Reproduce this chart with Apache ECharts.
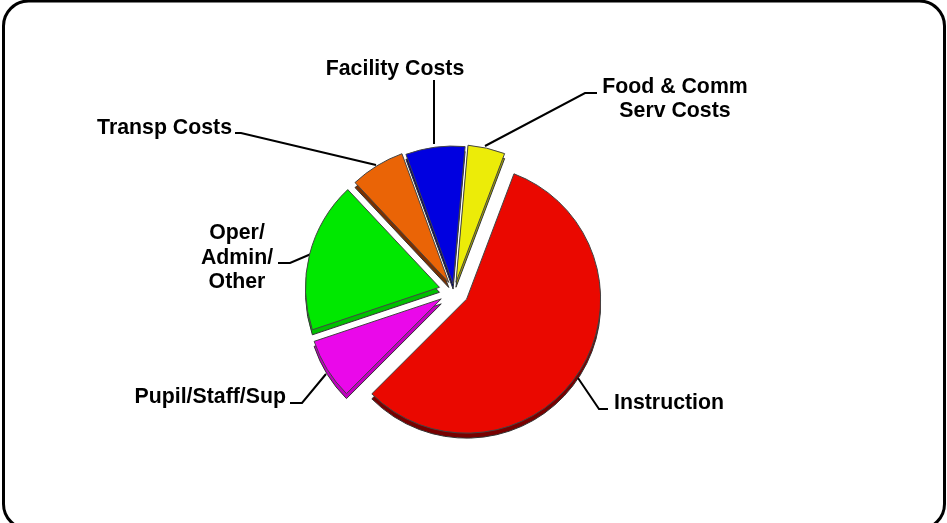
<!DOCTYPE html>
<html>
<head>
<meta charset="utf-8">
<style>
  html, body { margin: 0; padding: 0; background: #fff; overflow: hidden; }
  #chart { width: 947px; height: 523px; }
</style>
</head>
<body>
<div id="chart"></div>
<script src="https://cdn.jsdelivr.net/npm/echarts@6/dist/echarts.min.js"></script>
<script>
// clockwise from the top of the pie
var categories = ['Food & Comm\nServ Costs', 'Instruction', 'Pupil/Staff/Sup', 'Oper/\nAdmin/\nOther', 'Transp Costs', 'Facility Costs'];
var values = [4.36, 56.75, 7.36, 18.14, 6.44, 6.94];
var topColors = ['#ecec08', '#ea0800', '#ea08ea', '#00e800', '#ea6406', '#0000e0'];
var sideColors = ['#a8a800', '#780000', '#c000c0', '#00c000', '#7a3000', '#000070'];
var explode = [9, 15, 15, 15, 10, 7];
var radii = [137.5, 134, 134, 134, 137, 138];

// label anchor and leader line for each slice
var labelPos = [
  {x: 675, y: 99, line: [[485, 146], [585, 93], [597, 93]]},
  {x: 614, y: 403, align: 'left', line: [[578, 378], [599, 409], [608, 409]]},
  {x: 286, y: 397, align: 'right', line: [[326, 374], [302, 403], [290, 403]]},
  {x: 237, y: 258, line: [[311, 254], [290, 263], [278, 263]]},
  {x: 232, y: 128, align: 'right', line: [[376, 165], [241, 133], [235, 133]]},
  {x: 395, y: 69, line: [[434, 144], [434, 80], [434, 80]]}
];

var pieX = 454, pieY = 291, sideDepth = 5, firstAngle = 85;
var total = values.reduce(function (a, b) { return a + b; }, 0);

var chart = echarts.init(document.getElementById('chart'));

// one pie per slice so every slice can have its own explode distance;
// the rest of each circle is an empty item
function slicePie(i, angle, colors, border, dy, withLabel) {
  var sweep = values[i] / total * 360;
  var mid = (angle - sweep / 2) * Math.PI / 180;
  var p = labelPos[i];
  return {
    type: 'pie',
    silent: true,
    z: withLabel ? 3 : 2,
    radius: radii[i],
    center: [pieX + explode[i] * Math.cos(mid), pieY + dy - explode[i] * Math.sin(mid)],
    startAngle: angle,
    avoidLabelOverlap: false,
    data: [
      {
        name: categories[i],
        value: values[i],
        itemStyle: {color: colors[i], borderColor: border, borderWidth: 1},
        label: {
          show: withLabel,
          color: '#000',
          fontFamily: 'Liberation Sans',
          fontWeight: 'bold',
          fontSize: 21.3,
          lineHeight: 24.5
        },
        labelLine: {show: withLabel, lineStyle: {color: '#000', width: 2}}
      },
      {
        name: '',
        value: total - values[i],
        itemStyle: {color: 'transparent', borderWidth: 0},
        label: {show: false},
        labelLine: {show: false}
      }
    ],
    labelLayout: withLabel ? function () {
      return {
        x: p.x,
        y: p.y,
        align: p.align || 'center',
        verticalAlign: 'middle',
        labelLinePoints: p.line
      };
    } : null
  };
}

var series = [];
var angle = firstAngle;
values.forEach(function (v, i) {
  series.push(slicePie(i, angle, sideColors, '#333', sideDepth, false));
  series.push(slicePie(i, angle, topColors, '#444', 0, true));
  angle -= v / total * 360;
});

chart.setOption({
  animation: false,
  backgroundColor: '#fff',
  graphic: [{
    type: 'rect',
    z: 0,
    shape: {x: 3.5, y: 1, width: 941, height: 528, r: 25},
    style: {fill: '#fff', stroke: '#000', lineWidth: 3}
  }],
  series: series
});
</script>
</body>
</html>
